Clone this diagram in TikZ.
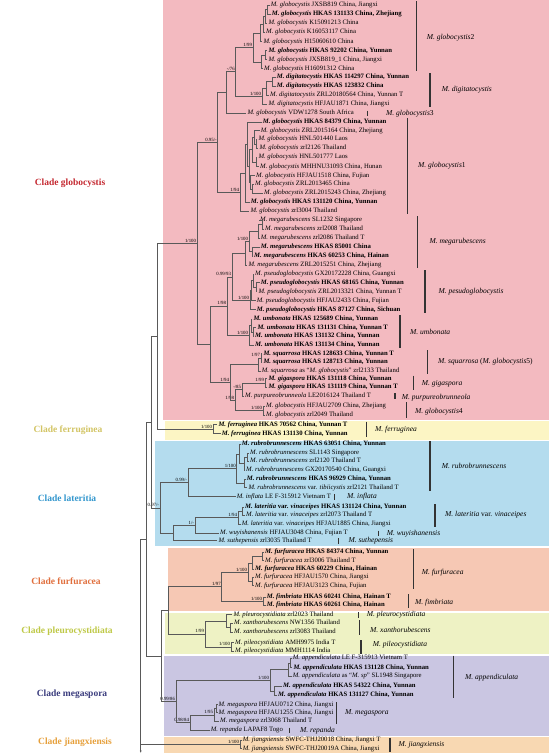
\documentclass[tikz,border=0pt]{standalone}
\usepackage{fontspec}
\setmainfont{Liberation Serif}
\usetikzlibrary{calc,arrows.meta}

\definecolor{bglobo}{RGB}{243,186,192}
\definecolor{bferru}{RGB}{252,245,196}
\definecolor{blater}{RGB}{180,220,238}
\definecolor{bfurfu}{RGB}{246,200,180}
\definecolor{bpleur}{RGB}{238,242,196}
\definecolor{bmegas}{RGB}{202,198,226}
\definecolor{bjiang}{RGB}{248,216,178}
\definecolor{tglobo}{RGB}{196,40,48}
\definecolor{tferru}{RGB}{210,196,100}
\definecolor{tlater}{RGB}{50,150,205}
\definecolor{tfurfu}{RGB}{224,110,60}
\definecolor{tpleur}{RGB}{190,200,70}
\definecolor{tmegas}{RGB}{58,60,125}
\definecolor{tjiang}{RGB}{230,160,60}

\tikzstyle{branch} = [line width=0.45pt, draw=black!65]
\tikzstyle{bar} = [line width=1.2pt, draw=black!80]
\tikzset{
 leaf/.style
  = {anchor=west, inner sep=1pt, text height=4.5pt, text depth=1.4pt,
     font=\fontsize{6.7}{8}\selectfont},
 leafb/.style
  = {leaf, font=\fontsize{6.7}{8}\selectfont\bfseries},
 bs/.style
  = {font=\fontsize{4.8}{5}\selectfont, inner sep=0.8pt},
 grp/.style
  = {anchor=west, inner sep=0pt, font=\fontsize{7.5}{8}\selectfont},
 clade/.style
  = {inner sep=0pt, font=\fontsize{9.5}{10}\selectfont\bfseries},
}

% ancestor: [support]{name}{x}{first child}{last child}
\newcommand{\anc}[5][]{%
  \path let \p1=($(#4)!.5!(#5)$) in
    coordinate[label={[bs]above left:#1}] (#2) at (#3pt,\y1);
  \draw[branch] (#2) |- (#4) (#2) |- (#5);}

\begin{document}
\begin{tikzpicture}[x=1pt,y=-1pt]
\useasboundingbox (0,0) rectangle (550,755);

% Clade boxes
\fill[bglobo] (163,0) rectangle (549,420);
\fill[bferru] (165,421) rectangle (549,439.5);
\fill[blater] (155,440.5) rectangle (549,546);
\fill[bfurfu] (168,547.5) rectangle (549,611);
\fill[bpleur] (165,612.5) rectangle (549,653.5);
\fill[bmegas] (164,655.5) rectangle (549,735.5);
\fill[bjiang] (164,736.5) rectangle (549,753);

% Clade names
\node[clade,text=tglobo] (n-glo) at (70,183) {Clade globocystis};
\node[clade,text=tferru] (n-fer) at (68,430) {Clade ferruginea};
\node[clade,text=tlater] (n-lat) at (67,498) {Clade lateritia};
\node[clade,text=tfurfu] (n-fur) at (66,581) {Clade furfuracea};
\node[clade,text=tpleur] (n-ple) at (67,631) {Clade pleurocystidiata};
\node[clade,text=tmegas] (n-meg) at (72,694) {Clade megaspora};
\node[clade,text=tjiang] (n-jia) at (75,742) {Clade jiangxiensis};

% Taxa, clade globocystis
\node[leaf] (r1) at (269.7,5) {\textit{M. globocystis} JXSB819 China, Jiangxi};
\node[leafb] (r2) at (270.7,14) {\textit{M. globocystis} HKAS 131133 China, Zhejiang};
\node[leaf] (r3) at (267.3,23) {\textit{M. globocystis} K15091213 China};
\node[leaf] (r4) at (265,32) {\textit{M. globocystis} K16053117 China};
\node[leaf] (r5) at (262.3,41.5) {\textit{M. globocystis} H15060610 China};
\node[leafb] (r6) at (267.3,50.5) {\textit{M. globocystis} HKAS 92202 China, Yunnan};
\node[leaf] (r7) at (267.3,59.5) {\textit{M. globocystis} JXSB819\_1 China, Jiangxi};
\node[leaf] (r8) at (263,68.5) {\textit{M. globocystis} H16091312 China};
\node[leafb] (r9) at (275.7,77) {\textit{M. digitatocystis} HKAS 114297 China, Yunnan};
\node[leafb] (r10) at (275.7,86) {\textit{M. digitatocystis} HKAS 123832 China};
\node[leaf] (r11) at (269,95) {\textit{M. digitatocystis} ZRL20180564 China, Yunnan T};
\node[leaf] (r12) at (267.3,104) {\textit{M. digitatocystis} HFJAU1871 China, Jiangxi};
\node[leaf] (r13) at (246.3,113.3) {\textit{M. globocystis} VDW1278 South Africa};
\node[leafb] (r14) at (261.7,122) {\textit{M. globocystis} HKAS 84379 China, Yunnan};
\node[leaf] (r15) at (259.7,130.5) {\textit{M. globocystis} ZRL2015164 China, Zhejiang};
\node[leaf] (r16) at (257.3,139.3) {\textit{M. globocystis} HNL501440 Laos};
\node[leaf] (r17) at (258.3,148.3) {\textit{M. globocystis} zrl2126 Thailand};
\node[leaf] (r18) at (257.3,157.3) {\textit{M. globocystis} HNL501777 Laos};
\node[leaf] (r19) at (259,166.5) {\textit{M. globocystis} MHHNU31093 China, Hunan};
\node[leaf] (r20) at (255,175.5) {\textit{M. globocystis} HFJAU1518 China, Fujian};
\node[leaf] (r21) at (254,184.3) {\textit{M. globocystis} ZRL2013465 China};
\node[leaf] (r22) at (263,193.3) {\textit{M. globocystis} ZRL2015243 China, Zhejiang};
\node[leafb] (r23) at (249.7,202.3) {\textit{M. globocystis} HKAS 131120 China, Yunnan};
\node[leaf] (r24) at (249.3,211) {\textit{M. globocystis} zrl3004 Thailand};
\node[leaf] (r25) at (259,220) {\textit{M. megarubescens} SL1232 Singapore};
\node[leaf] (r26) at (264,229) {\textit{M. megarubescens} zrl2008 Thailand};
\node[leaf] (r27) at (259.7,238.3) {\textit{M. megarubescens} zrl2086 Thailand T};
\node[leafb] (r28) at (259.7,247) {\textit{M. megarubescens} HKAS 85001 China};
\node[leafb] (r29) at (253,256.3) {\textit{M. megarubescens} HKAS 60253 China, Hainan};
\node[leaf] (r30) at (247.3,265.3) {\textit{M. megarubescens} ZRL2015251 China, Zhejiang};
\node[leaf] (r31) at (254,274) {\textit{M. pseudoglobocystis} GX20172228 China, Guangxi};
\node[leafb] (r32) at (259.7,282.7) {\textit{M. pseudoglobocystis} HKAS 68165 China, Yunnan};
\node[leaf] (r33) at (257.3,291.7) {\textit{M. pseudoglobocystis} ZRL2013321 China, Yunnan T};
\node[leaf] (r34) at (255.7,300.7) {\textit{M. pseudoglobocystis} HFJAU2433 China, Fujian};
\node[leafb] (r35) at (255.7,309.7) {\textit{M. pseudoglobocystis} HKAS 87127 China, Sichuan};
\node[leafb] (r36) at (252.3,319) {\textit{M. umbonata} HKAS 125689 China, Yunnan};
\node[leafb] (r37) at (256.3,327.7) {\textit{M. umbonata} HKAS 131131 China, Yunnan T};
\node[leafb] (r38) at (254,336.3) {\textit{M. umbonata} HKAS 131132 China, Yunnan};
\node[leafb] (r39) at (254,345) {\textit{M. umbonata} HKAS 131134 China, Yunnan};
\node[leafb] (r40) at (262.3,353.7) {\textit{M. squarrosa} HKAS 128633 China, Yunnan T};
\node[leafb] (r41) at (262.3,362.3) {\textit{M. squarrosa} HKAS 128713 China, Yunnan};
\node[leaf] (r42) at (260.7,371) {\textit{M. squarrosa} as ``\textit{M. globocystis}'' zrl2133 Thailand};
\node[leafb] (r43) at (267.3,378.7) {\textit{M. gigaspora} HKAS 131118 China, Yunnan};
\node[leafb] (r44) at (267.3,387.3) {\textit{M. gigaspora} HKAS 131119 China, Yunnan T};
\node[leaf] (r45) at (244,396) {\textit{M. purpureobrunneola} LE2016124 Thailand T};
\node[leaf] (r46) at (265,406) {\textit{M. globocystis} HFJAU2709 China, Zhejiang};
\node[leaf] (r47) at (265,415.3) {\textit{M. globocystis} zrl2049 Thailand};

% Taxa, clade ferruginea
\node[leafb] (r48) at (217.3,424.7) {\textit{M. ferruginea} HKAS 70562 China, Yunnan T};
\node[leafb] (r49) at (220.7,433.7) {\textit{M. ferruginea} HKAS 131130 China, Yunnan};

% Taxa, clade lateritia
\node[leafb] (r50) at (240.7,444) {\textit{M. rubrobrunnescens} HKAS 63051 China, Yunnan};
\node[leaf] (r51) at (249,453) {\textit{M. rubrobrunnescens} SL1143 Singapore};
\node[leaf] (r52) at (249,461.3) {\textit{M. rubrobrunnescens} zrl2120 Thailand T};
\node[leaf] (r53) at (245,470) {\textit{M. rubrobrunnescens} GX20170540 China, Guangxi};
\node[leafb] (r54) at (245.7,479) {\textit{M. rubrobrunnescens} HKAS 96929 China, Yunnan};
\node[leaf] (r55) at (247.3,487.7) {\textit{M. rubrobrunnescens} var. \textit{tibiicystis} zrl2121 Thailand T};
\node[leaf] (r56) at (235.7,496.7) {\textit{M. inflata} LE F-315912 Vietnam T};
\node[leafb] (r57) at (244,507) {\textit{M. lateritia} var. \textit{vinaceipes} HKAS 131124 China, Yunnan};
\node[leaf] (r58) at (245,515) {\textit{M. lateritia} var. \textit{vinaceipes} zrl2073 Thailand T};
\node[leaf] (r59) at (240.7,524.3) {\textit{M. lateritia} var. \textit{vinaceipes} HFJAU1885 China, Jiangxi};
\node[leaf] (r60) at (219,533.3) {\textit{M. wuyishanensis} HFJAU3048 China, Fujian T};
\node[leaf] (r61) at (217.3,540.7) {\textit{M. suthepensis} zrl3035 Thailand T};

% Taxa, clade furfuracea
\node[leafb] (r62) at (264,552.3) {\textit{M. furfuracea} HKAS 84374 China, Yunnan};
\node[leaf] (r63) at (264,560.5) {\textit{M. furfuracea} zrl3006 Thailand T};
\node[leafb] (r64) at (254,569.3) {\textit{M. furfuracea} HKAS 60229 China, Hainan};
\node[leaf] (r65) at (254,577) {\textit{M. furfuracea} HFJAU1570 China, Jiangxi};
\node[leaf] (r66) at (254,585.7) {\textit{M. furfuracea} HFJAU3123 China, Fujian};
\node[leafb] (r67) at (265.7,597) {\textit{M. fimbriata} HKAS 60241 China, Hainan T};
\node[leafb] (r68) at (265.7,605.3) {\textit{M. fimbriata} HKAS 60261 China, Hainan};

% Taxa, clade pleurocystidiata
\node[leaf] (r69) at (232.3,614.7) {\textit{M. pleurocystidiata} zrl2023 Thailand};
\node[leaf] (r70) at (233,623) {\textit{M. xanthorubescens} NW1356 Thailand};
\node[leaf] (r71) at (233,632.3) {\textit{M. xanthorubescens} zrl3083 Thailand};
\node[leaf] (r72) at (234,642.7) {\textit{M. pileocystidiata} AMH9975 India T};
\node[leaf] (r73) at (234,651) {\textit{M. pileocystidiata} MMH1114 India};

% Taxa, clade megaspora
\node[leaf] (r74) at (291.7,658.3) {\textit{M. appendiculata} LE F-315913 Vietnam T};
\node[leafb] (r75) at (292.3,667.7) {\textit{M. appendiculata} HKAS 131128 China, Yunnan};
\node[leaf] (r76) at (291.7,676) {\textit{M. appendiculata} as ``\textit{M. sp}'' SL1948 Singapore};
\node[leafb] (r77) at (282,686.3) {\textit{M. appendiculata} HKAS 54322 China, Yunnan};
\node[leafb] (r78) at (277,695.3) {\textit{M. appendiculata} HKAS 131127 China, Yunnan};
\node[leaf] (r79) at (217.3,704.7) {\textit{M. megaspora} HFJAU0712 China, Jiangxi};
\node[leaf] (r80) at (217.3,712.7) {\textit{M. megaspora} HFJAU1255 China, Jiangxi};
\node[leaf] (r81) at (219,721) {\textit{M. megaspora} zrl3068 Thailand T};
\node[leaf] (r82) at (209.7,730.3) {\textit{M. repanda} LAPAF8 Togo};

% Taxa, clade jiangxiensis
\node[leaf] (r83) at (241.7,740.3) {\textit{M. jiangxiensis} SWFC-THJ20018 China, Jiangxi T};
\node[leaf] (r84) at (241.7,748.7) {\textit{M. jiangxiensis} SWFC-THJ20019A China, Jiangxi};

% Tree, clade globocystis
\anc{a1}{267.5}{r1.west}{r2.west}
\anc{a2}{265}{a1}{r3.west}
\anc{a3}{263}{a2}{r4.west}
\anc{a4}{260}{a3}{r5.west}
\anc{a5}{265.5}{r6.west}{r7.west}
\anc{a6}{261}{a5}{r8.west}
\anc[1/99]{g2}{253}{a4}{a6}
\anc{b1}{272}{r9.west}{r10.west}
\anc{b2}{266.5}{b1}{r11.west}
\anc[1/100]{dig}{262}{b2}{r12.west}
\anc[-/76]{gd}{235.7}{g2}{dig}
\anc{gdv}{226.7}{gd}{r13.west}
\anc{c1}{256}{r16.west}{r17.west}
\anc{c2}{256}{r18.west}{r19.west}
\anc{c3}{254}{r15.west}{c1}
\anc{c4}{252}{c3}{c2}
\anc{c5}{252.5}{r21.west}{r22.west}
\anc{c6}{250.5}{r20.west}{c5}
\anc{c7}{249}{c4}{c6}
\anc{c8}{247}{r14.west}{c7}
\anc{c9}{245}{c8}{r23.west}
\anc[1/94]{g1}{240}{c9}{r24.west}
\anc[0.95/-]{gu}{217.7}{gdv}{g1}
\anc{d1}{262}{r25.west}{r26.west}
\anc{d2}{258}{d1}{r27.west}
\anc{d3}{252}{r28.west}{r29.west}
\anc[1/100]{d4}{249}{d2}{d3}
\anc{meg}{245}{d4}{r30.west}
\anc{e1}{256}{r32.west}{r33.west}
\anc{e2}{253}{r31.west}{e1}
\anc{e3}{251.5}{e2}{r34.west}
\anc[1/100]{pse}{250}{e3}{r35.west}
\anc[0.99/93]{mp}{232}{meg}{pse}
\anc{f1}{253}{r37.west}{r38.west}
\anc{f2}{251}{r36.west}{f1}
\anc[1/100]{umb}{249}{f2}{r39.west}
\anc[1/98]{mpu}{227}{mp}{umb}
\anc[1/97]{sq1}{261}{r40.west}{r41.west}
\anc{sq}{258}{sq1}{r42.west}
\anc[1/99]{gig}{265}{r43.west}{r44.west}
\anc[-/85]{gp}{242}{gig}{r45.west}
\anc[1/100]{g4}{263}{r46.west}{r47.west}
\anc[1/98]{gpg}{235}{gp}{g4}
\anc[1/94]{sqg}{230}{sq}{gpg}
\anc{lowg}{210}{mpu}{sqg}
\anc[1/100]{glo}{197}{gu}{lowg}

% Tree, clades ferruginea and lateritia
\anc[1/100]{fer}{213}{r48.west}{r49.west}
\anc{gf}{157.3}{glo}{fer}
\anc{h1}{247}{r51.west}{r52.west}
\anc{h2}{244}{h1}{r53.west}
\anc{h3}{239}{r50.west}{h2}
\anc{h4}{244}{r54.west}{r55.west}
\anc[1/100]{rub}{236.7}{h3}{h4}
\anc[0.99/-]{ri}{188}{rub}{r56.west}
\anc{lv1}{242}{r57.west}{r58.west}
\anc[1/94]{lat}{238}{lv1}{r59.west}
\anc[1/-]{lw}{195}{lat}{r60.west}
\anc{lws}{173}{lw}{r61.west}
\anc[0.97/-]{lt}{160}{ri}{lws}
\anc{a7}{151.7}{gf}{lt}

% Tree, clades furfuracea and pleurocystidiata
\anc{k1}{262}{r62.west}{r63.west}
\anc{k2}{252}{k1}{r64.west}
\anc{k3}{252}{r65.west}{r66.west}
\anc[1/100]{furf}{248}{k2}{k3}
\anc[1/100]{fimb}{263}{r67.west}{r68.west}
\anc[1/97]{fu}{221.7}{furf}{fimb}
\anc{xan}{230}{r70.west}{r71.west}
\anc{px}{226}{r69.west}{xan}
\anc[1/100]{pil}{231}{r72.west}{r73.west}
\anc[1/99]{pl}{205}{px}{pil}
\anc{fp}{168.3}{fu}{pl}

% Tree, clades megaspora and jiangxiensis
\anc{ap1}{290}{r74.west}{r75.west}
\anc{ap2}{288}{ap1}{r76.west}
\anc{ap4}{274}{r77.west}{r78.west}
\anc[1/100]{app}{270}{ap2}{ap4}
\anc{mg1}{216.5}{r79.west}{r80.west}
\anc[1/95]{mgs}{214}{mg1}{r81.west}
\anc[0.98/84]{mr}{190}{mgs}{r82.west}
\anc[0.99/86]{mgc}{176}{app}{mr}
\anc{fpm}{161.7}{fp}{mgc}
\anc{a8}{146}{a7}{fpm}
\anc[1/100]{jx}{240}{r83.west}{r84.west}
\anc{root}{140.7}{a8}{jx}
\coordinate (tip) at (140.7,753);
\draw[branch,-{Latex[length=2.5pt,width=2pt]}] (root) -- (tip);

% Species bars and names
\draw[bar] (416.7,1) -- (416.7,71);
\node[grp] (s-g2) at (426.7,38) {\textit{M. globocystis}2};
\draw[bar] (430,73) -- (430,107);
\node[grp] (s-dig) at (441.7,90) {\textit{M. digitatocystis}};
\draw[bar] (367.7,110.5) -- (367.7,116);
\node[grp] (s-g3) at (386,113.3) {\textit{M. globocystis}3};
\draw[bar] (407.7,118) -- (407.7,214);
\node[grp] (s-g1) at (418,166) {\textit{M. globocystis}1};
\draw[bar] (417.7,216) -- (417.7,268);
\node[grp] (s-meg) at (429.3,242) {\textit{M. megarubescens}};
\draw[bar] (425,270) -- (425,313);
\node[grp] (s-pse) at (438.3,291.7) {\textit{M. pesudoglobocystis}};
\draw[bar] (400,315) -- (400,348);
\node[grp] (s-umb) at (410,332) {\textit{M. umbonata}};
\draw[bar] (427.7,350) -- (427.7,374);
\node[grp] (s-sq) at (438,362) {\textit{M. squarrosa} (\textit{M. globocystis}5)};
\draw[bar] (413.3,375.5) -- (413.3,390);
\node[grp] (s-gig) at (421.7,384) {\textit{M. gigaspora}};
\draw[bar] (395,393) -- (395,399);
\node[grp] (s-pur) at (401.7,398) {\textit{M. purpureobrunneola}};
\draw[bar] (406.7,402) -- (406.7,418);
\node[grp] (s-g4) at (415,412) {\textit{M. globocystis}4};
\draw[bar] (366.7,421.5) -- (366.7,437);
\node[grp] (s-fer) at (375,429.5) {\textit{M. ferruginea}};
\draw[bar] (430,441) -- (430,491);
\node[grp] (s-rub) at (441.7,466) {\textit{M. rubrobrunnescens}};
\draw[bar] (334.3,494) -- (334.3,499.5);
\node[grp] (s-inf) at (347,497) {\textit{M. inflata}};
\draw[bar] (435,504) -- (435,527);
\node[grp] (s-lat) at (445,515) {\textit{M. lateritia} var. \textit{vinaceipes}};
\draw[bar] (378.3,530.5) -- (378.3,536);
\node[grp] (s-wuy) at (386.7,534) {\textit{M. wuyishanensis}};
\draw[bar] (338.3,538) -- (338.3,543.5);
\node[grp] (s-sut) at (348.3,541) {\textit{M. suthepensis}};
\draw[bar] (413.3,549) -- (413.3,589);
\node[grp] (s-fur) at (421.7,573) {\textit{M. furfuracea}};
\draw[bar] (408.3,594) -- (408.3,608);
\node[grp] (s-fim) at (415,603) {\textit{M. fimbriata}};
\draw[bar] (358.3,612) -- (358.3,617.5);
\node[grp] (s-ple) at (366.7,614.7) {\textit{M. pleurocystidiata}};
\draw[bar] (359.3,620) -- (359.3,635);
\node[grp] (s-xan) at (370,630) {\textit{M. xanthorubescens}};
\draw[bar] (361,640) -- (361,654);
\node[grp] (s-pil) at (372.7,645) {\textit{M. pileocystidiata}};
\draw[bar] (453.3,655.5) -- (453.3,698);
\node[grp] (s-app) at (465,678) {\textit{M. appendiculata}};
\draw[bar] (336.7,702) -- (336.7,724);
\node[grp] (s-mgs) at (345,713) {\textit{M. megaspora}};
\draw[bar] (289.3,727.5) -- (289.3,733);
\node[grp] (s-rep) at (300,730.3) {\textit{M. repanda}};
\draw[bar] (390,737.5) -- (390,752);
\node[grp] (s-jia) at (398.3,745) {\textit{M. jiangxiensis}};

\end{tikzpicture}
\end{document}
